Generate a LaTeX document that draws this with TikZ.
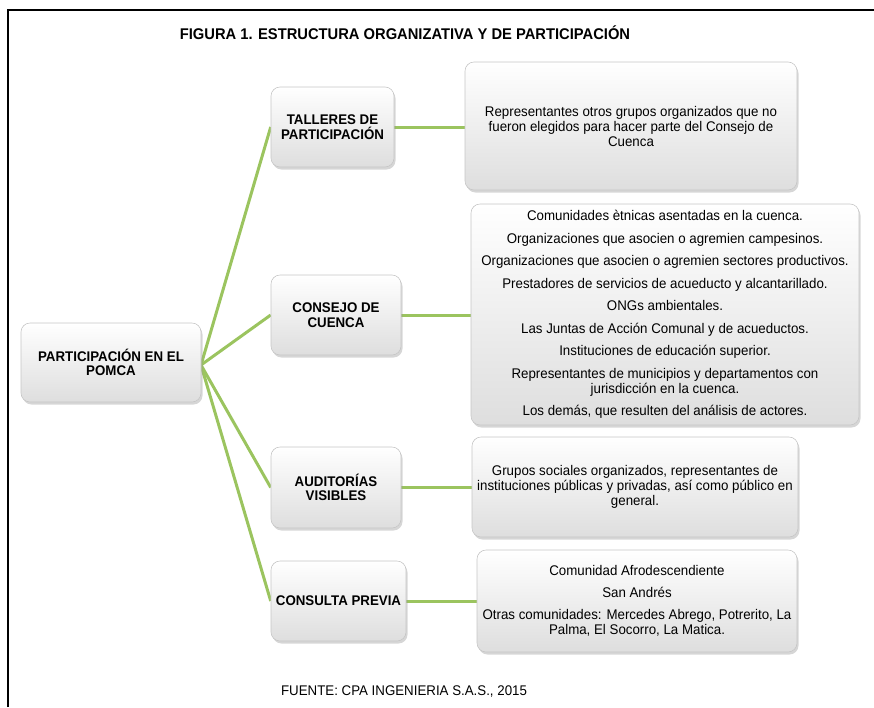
\documentclass[tikz,border=0pt]{standalone}
\usepackage{fontspec}
\setmainfont{Liberation Sans}[FakeStretch=0.95]
\usetikzlibrary{shadows,backgrounds}
\definecolor{lineg}{RGB}{155,196,95}
\tikzset{
  box/.style={rectangle, rounded corners=9pt, draw=gray!45, line width=0.6pt,
    top color=white, bottom color=gray!26,
    drop shadow={shadow xshift=1.5pt, shadow yshift=-2.5pt, opacity=0.4, fill=gray!80},
    align=center, inner sep=2pt, font=\fontsize{14}{15}\selectfont},
  headbox/.style={box, font=\bfseries\fontsize{14}{14.5}\selectfont},
  link/.style={draw=lineg, line width=3pt},
}
\begin{document}
\begin{tikzpicture}[x=1pt,y=-1pt]
\useasboundingbox (0,0) rectangle (874,707);
\draw[line width=1.6pt] (8,707) -- (8,10) -- (874,10);
\node[font=\bfseries\fontsize{15.5}{18}\selectfont] (title) at (405,33) {FIGURA 1. ESTRUCTURA ORGANIZATIVA Y DE PARTICIPACIÓN};

\node[headbox, minimum width=180pt, minimum height=79pt] (root) at (111,362.5) {PARTICIPACIÓN EN EL\\POMCA};

\node[headbox, minimum width=123pt, minimum height=80pt] (tall) at (332.5,127) {TALLERES DE\\PARTICIPACIÓN};
\node[box, minimum width=332pt, minimum height=128pt] (tallr) at (631,126)
  {Representantes otros grupos organizados que no\\fueron elegidos para hacer parte del Consejo de\\Cuenca};

\node[headbox, minimum width=130pt, minimum height=80pt] (cons) at (336,315) {CONSEJO DE\\CUENCA};
\node[box, minimum width=388pt, minimum height=221pt] (consr) at (665,314.5)
  {Comunidades ètnicas asentadas en la cuenca.\\[7.5pt]
   Organizaciones que asocien o agremien campesinos.\\[7.5pt]
   Organizaciones que asocien o agremien sectores productivos.\\[7.5pt]
   Prestadores de servicios de acueducto y alcantarillado.\\[7.5pt]
   ONGs ambientales.\\[7.5pt]
   Las Juntas de Acción Comunal y de acueductos.\\[7.5pt]
   Instituciones de educación superior.\\[7.5pt]
   Representantes de municipios y departamentos con\\
   jurisdicción en la cuenca.\\[7.5pt]
   Los demás, que resulten del análisis de actores.};

\node[headbox, minimum width=130pt, minimum height=81pt] (aud) at (336,487.5) {AUDITORÍAS\\VISIBLES};
\node[box, minimum width=326pt, minimum height=100pt] (audr) at (635,487)
  {Grupos sociales organizados, representantes de\\instituciones públicas y privadas, así como público en\\general.};

\node[headbox, minimum width=135pt, minimum height=80pt] (cp) at (338.5,601) {CONSULTA PREVIA};
\node[box, minimum width=320pt, minimum height=102pt] (cpr) at (637,601)
  {Comunidad Afrodescendiente\\[7pt]
   San Andrés\\[7pt]
   Otras comunidades: Mercedes Abrego, Potrerito, La\\
   Palma, El Socorro, La Matica.};

\node[font=\fontsize{14}{16}\selectfont] (src) at (404,691) {FUENTE: CPA INGENIERIA S.A.S., 2015};

\coordinate (hub) at (201,365);
\begin{scope}[on background layer]
  \draw[link] (hub) -- (tall.west);
  \draw[link] (hub) -- (cons.west);
  \draw[link] (hub) -- (aud.west);
  \draw[link] (hub) -- (cp.west);
  \draw[link] (tall.east) -- (tall.east -| tallr.west);
  \draw[link] (cons.east) -- (cons.east -| consr.west);
  \draw[link] (aud.east) -- (aud.east -| audr.west);
  \draw[link] (cp.east) -- (cp.east -| cpr.west);
\end{scope}
\end{tikzpicture}
\end{document}
